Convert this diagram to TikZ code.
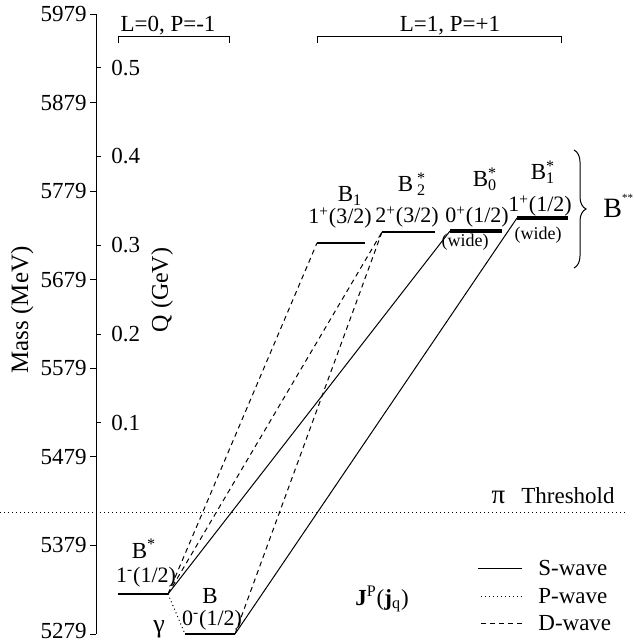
\documentclass[tikz,border=0pt]{standalone}
\usepackage{fontspec}
\setmainfont{Liberation Serif}
\usetikzlibrary{decorations.pathreplacing}
\newcommand{\stk}[2]{\rlap{\textsuperscript{#1}}\textsubscript{#2}}
\tikzstyle{txt} = [font=\fontsize{11.5}{13}\selectfont, inner sep=0pt]
\tikzstyle{jlab} = [font=\fontsize{11}{13}\selectfont, inner sep=0pt]
\tikzstyle{small} = [font=\fontsize{9}{10}\selectfont, inner sep=0pt]
\tikzstyle{lvl} = [line width=1pt]
\tikzstyle{widelvl} = [line width=2pt]
\tikzstyle{swave} = [line width=0.5pt]
\tikzstyle{pwave} = [line width=0.5pt, dash pattern=on 0.5pt off 1.5pt]
\tikzstyle{dwave} = [line width=0.5pt, dash pattern=on 2.5pt off 2pt]

\begin{document}
\begin{tikzpicture}[x=0.5pt, y=-0.5pt]
    \useasboundingbox (0,0) rectangle (634,641);

    % Mass axis
    \draw[line width=0.5pt] (96,14) -- (96,634);
    \foreach \m [count=\i from 0] in {5279,5379,5479,5579,5679,5779,5879,5979} {
        \pgfmathsetmacro\ly{634-\i*88.57-3*(\i==0)}
        \draw[line width=0.5pt] (90,634-\i*88.57) -- (96,634-\i*88.57);
        \node[txt, anchor=east] (m\i) at (87,\ly) {\m};
    }
    \node[txt, font=\fontsize{12.5}{14}\selectfont, rotate=90] (mass) at (22,310) {Mass (MeV)};

    % Q scale
    \foreach \q [count=\i] in {0.1,0.2,0.3,0.4,0.5} {
        \draw[line width=0.5pt] (96,511.5-\i*88.75) -- (101,511.5-\i*88.75);
        \node[txt, anchor=west] (q\i) at (111,511.5-\i*88.75) {\q};
    }
    \node[txt, font=\fontsize{12}{14}\selectfont, rotate=90] (qlab) at (162,290) {Q (GeV)};

    % L, P groups
    \draw[line width=0.5pt] (118,43) -- (118,37) -- (229,37) -- (229,43);
    \node[txt, anchor=base] (lzero) at (168,32) {L=0, P=-1};
    \draw[line width=0.5pt] (317,43) -- (317,37) -- (561,37) -- (561,43);
    \node[txt, anchor=base] (lone) at (450,32) {L=1, P=+1};

    % pi threshold
    \coordinate (thrL) at (0,512);
    \coordinate (thrR) at (626,512);
    \draw[pwave] (thrL) -- (thrR);
    \node[txt, anchor=base east] (thr) at (615,503) {{\fontsize{13.5}{14}\selectfont π}\hspace{8pt}Threshold};

    % Levels
    \coordinate (BstL) at (118,594);   \coordinate (BstR) at (168,594);
    \coordinate (BL) at (185,634);     \coordinate (BR) at (235,634);
    \coordinate (BoneL) at (317,243);  \coordinate (BoneR) at (365,243);
    \coordinate (BtwoL) at (382,232);  \coordinate (BtwoR) at (435,232);
    \coordinate (BzeroL) at (450,231); \coordinate (BzeroR) at (502,231);
    \coordinate (BoneSL) at (517,218); \coordinate (BoneSR) at (568,218);
    \draw[lvl] (BstL) -- (BstR);
    \draw[lvl] (BL) -- (BR);
    \draw[lvl] (BoneL) -- (BoneR);
    \draw[lvl] (BtwoL) -- (BtwoR);
    \draw[widelvl] (BzeroL) -- (BzeroR);
    \draw[widelvl] (BoneSL) -- (BoneSR);

    % Transitions
    \draw[pwave] (BstR) -- (BL);
    \draw[dwave] (BstR) -- (BoneL);
    \draw[dwave] (BstR) -- (BtwoL);
    \draw[swave] (BstR) -- (BzeroL);
    \draw[dwave] (BR) -- (BtwoL);
    \draw[swave] (BR) -- (BoneSL);

    % Level labels
    \node[txt, anchor=base] (nBst) at (144,558) {B\textsuperscript{*}};
    \node[jlab, anchor=base] (jBst) at (146,582) {1\textsuperscript{-}(1/2)};
    \node[txt, anchor=base] (nB) at (210,603) {B};
    \node[jlab, anchor=base] (jB) at (212,625) {0\textsuperscript{-}(1/2)};
    \node[txt, anchor=base, font=\fontsize{13}{14}\selectfont] (gam) at (159,632) {γ};
    \node[txt, anchor=base] (nBone) at (350,202) {B\textsubscript{1}};
    \node[jlab, anchor=base] (jBone) at (340,224) {1\textsuperscript{+}(3/2)};
    \node[txt, anchor=base] (nBtwo) at (412,192) {B\,\stk{*}{2}};
    \node[jlab, anchor=base] (jBtwo) at (407,223) {2\textsuperscript{+}(3/2)};
    \node[txt, anchor=base] (nBzero) at (485,187) {B\stk{*}{0}};
    \node[jlab, anchor=base] (jBzero) at (477,223) {0\textsuperscript{+}(1/2)};
    \node[small, anchor=base] (wBzero) at (465,247) {(wide)};
    \node[txt, anchor=base] (nBoneS) at (543,180) {B\stk{*}{1}};
    \node[jlab, anchor=base] (jBoneS) at (540,212) {1\textsuperscript{+}(1/2)};
    \node[small, anchor=base] (wBoneS) at (538,240) {(wide)};

    % B** group
    \draw[line width=0.5pt, decorate, decoration={brace, amplitude=6pt}] (574,150) -- (574,268);
    \node[anchor=base west, inner sep=0pt, font=\fontsize{14}{16}\selectfont] (Bss) at (603,218)
        {B\raisebox{1.3ex}{\fontsize{5.5}{6}\selectfont **}};

    % Legend
    \node[txt, anchor=base] (jp) at (382,605) {\textbf{J}\textsuperscript{P}(\textbf{j}\textsubscript{q})};
    \node[txt, anchor=west] (sw) at (538,568) {S-wave};
    \node[txt, anchor=west] (pw) at (538,596) {P-wave};
    \node[txt, anchor=west] (dw) at (538,623) {D-wave};
    \draw[swave] ([xshift=-8pt]sw.west) -- ([xshift=-30pt]sw.west);
    \draw[pwave] ([xshift=-8pt]pw.west) -- ([xshift=-30pt]pw.west);
    \draw[dwave] ([xshift=-8pt]dw.west) -- ([xshift=-30pt]dw.west);
\end{tikzpicture}
\end{document}
